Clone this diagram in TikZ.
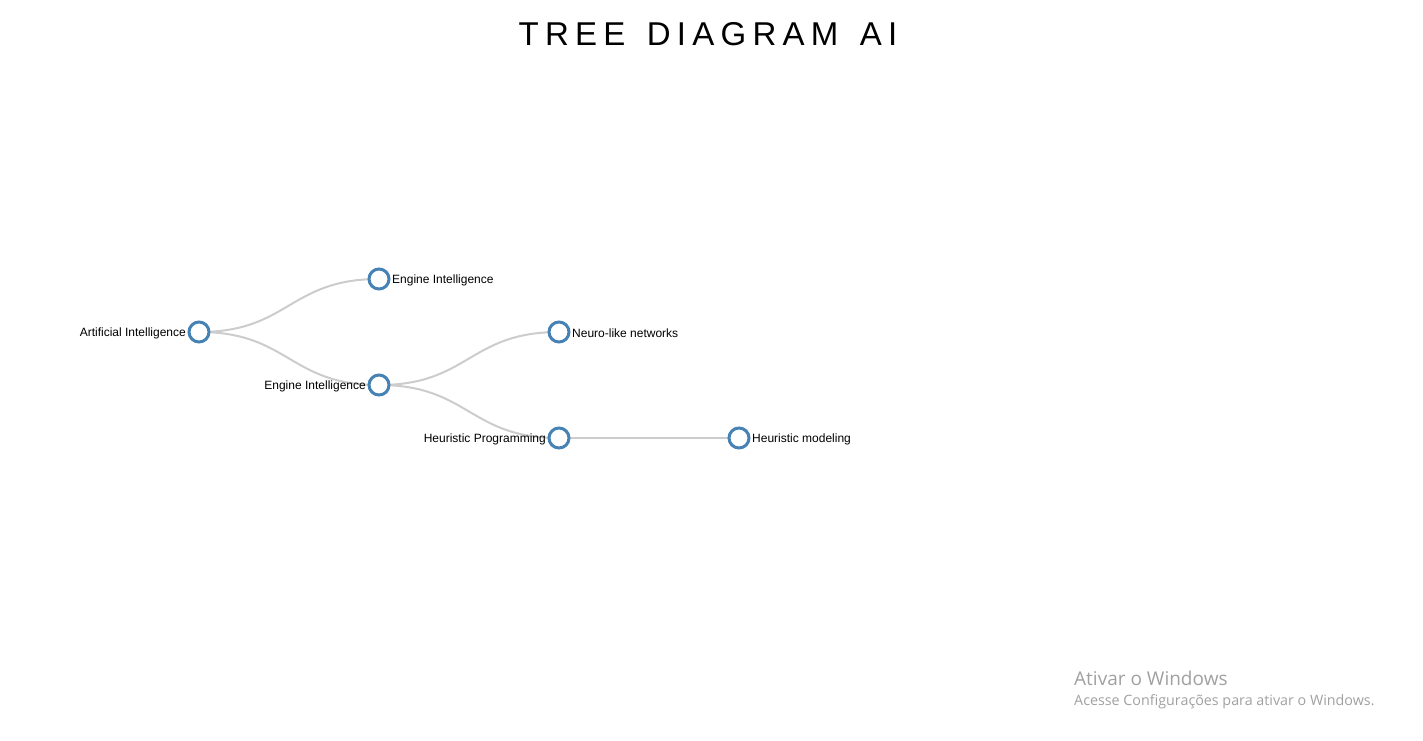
\documentclass[tikz,border=0pt]{standalone}
\usepackage{fontspec}
\setmainfont{Liberation Sans}
\newfontfamily\winfont{Open Sans}
\usetikzlibrary{calc}
\definecolor{nodeblue}{RGB}{70,130,180}
\definecolor{linkgray}{RGB}{204,204,204}
\definecolor{wmgray}{RGB}{160,160,160}
\begin{document}
\begin{tikzpicture}[x=1pt,y=1pt,
  treenode/.style={circle,draw=nodeblue,fill=white,line width=3pt,minimum size=20pt,inner sep=0pt},
  link/.style={draw=linkgray,line width=2pt},
  lbl/.style={font=\fontsize{12}{14}\selectfont,inner sep=0pt,text=black},
]
\useasboundingbox (0,0) rectangle (1423,-740);
% title
\node[anchor=base,font=\fontsize{33}{38}\selectfont\addfontfeature{LetterSpace=19}] (title) at (708,-45) {TREE\hspace{6pt} DIAGRAM\hspace{6pt} AI};
% node positions
\coordinate (pR) at (199,-332);
\coordinate (pE1) at (379,-279);
\coordinate (pE2) at (379,-385);
\coordinate (pN) at (559,-332);
\coordinate (pH) at (559,-438);
\coordinate (pM) at (739,-438);
% links
\draw[link] (pR) .. controls ($(pR)+(90,0)$) and ($(pE1)-(90,0)$) .. (pE1);
\draw[link] (pR) .. controls ($(pR)+(90,0)$) and ($(pE2)-(90,0)$) .. (pE2);
\draw[link] (pE2) .. controls ($(pE2)+(90,0)$) and ($(pN)-(90,0)$) .. (pN);
\draw[link] (pE2) .. controls ($(pE2)+(90,0)$) and ($(pH)-(90,0)$) .. (pH);
\draw[link] (pH) .. controls ($(pH)+(90,0)$) and ($(pM)-(90,0)$) .. (pM);
% nodes
\node[treenode] (R) at (pR) {};
\node[treenode] (E1) at (pE1) {};
\node[treenode] (E2) at (pE2) {};
\node[treenode] (N) at (pN) {};
\node[treenode] (H) at (pH) {};
\node[treenode] (M) at (pM) {};
% labels
\node[lbl,anchor=east] (lR) at ($(pR)+(-13,-1)$) {Artificial Intelligence};
\node[lbl,anchor=west] (lE1) at ($(pE1)+(13,-1)$) {Engine Intelligence};
\node[lbl,anchor=east] (lE2) at ($(pE2)+(-13,-1)$) {Engine Intelligence};
\node[lbl,anchor=west] (lN) at ($(pN)+(13,-1)$) {Neuro-like networks};
\node[lbl,anchor=east] (lH) at ($(pH)+(-13,-1)$) {Heuristic Programming};
\node[lbl,anchor=west] (lM) at ($(pM)+(13,-1)$) {Heuristic modeling};
% watermark
\node[anchor=base west,inner sep=0pt,text=wmgray,font=\winfont\fontsize{19}{22}\selectfont] (wm1) at (1074,-685) {Ativar o Windows};
\node[anchor=base west,inner sep=0pt,text=wmgray,font=\winfont\fontsize{14.3}{16}\selectfont] (wm2) at (1074,-705) {Acesse Configurações para ativar o Windows.};
\end{tikzpicture}
\end{document}
